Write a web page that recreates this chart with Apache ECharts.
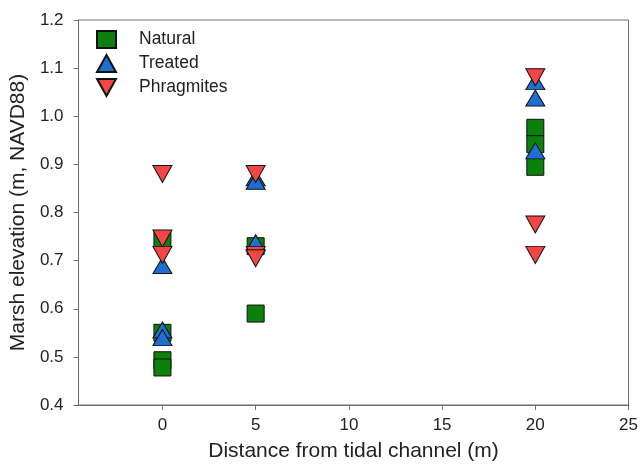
<!DOCTYPE html>
<html>
<head>
<meta charset="utf-8">
<script src="https://cdn.jsdelivr.net/npm/echarts@6/dist/echarts.min.js"></script>
<style>
  html, body { margin: 0; padding: 0; background: #fff; }
  #chart { width: 641px; height: 467px; }
</style>
</head>
<body>
<div id="chart"></div>
<script>
// distance from tidal channel (m) and marsh elevation (m, NAVD88)
const naturalX = [0, 0, 0, 0, 5, 5, 20, 20, 20];
const naturalY = [0.743, 0.55, 0.493, 0.478, 0.73, 0.59, 0.976, 0.942, 0.895];

const treatedX = [0, 0, 0, 5, 5, 5, 20, 20, 20];
const treatedY = [0.69, 0.556, 0.54, 0.872, 0.865, 0.737, 1.072, 1.038, 0.928];

const phragX = [0, 0, 0, 5, 5, 5, 20, 20, 20];
const phragY = [0.88, 0.746, 0.712, 0.88, 0.712, 0.705, 1.081, 0.775, 0.712];

const xTicks = [0, 5, 10, 15, 20, 25];

const downTri = 'path://M0,0 L20,0 L10,18 Z';
const font = 'Liberation Sans, Arial, sans-serif';

function pairs(xs, ys) {
    return xs.map((x, i) => [x, ys[i]]);
}

const chart = echarts.init(document.getElementById('chart'));

const option = {
    animation: false,
    backgroundColor: '#fff',
    grid: {
        left: 78,
        right: 10,
        top: 20,
        bottom: 62,
        show: true,
        borderColor: '#6e6e6e',
        borderWidth: 1,
    },
    legend: {
        orient: 'vertical',
        left: 96,
        top: 30,
        padding: 0,
        itemWidth: 19,
        itemHeight: 17,
        itemGap: 5,
        textStyle: { fontFamily: font, fontSize: 17.5, color: '#222', padding: [0, 0, 0, 18] },
        data: [
            { name: 'Natural', icon: 'rect' },
            { name: 'Treated', icon: 'triangle' },
            { name: 'Phragmites', icon: downTri },
        ],
    },
    xAxis: {
        type: 'value',
        min: -4.5,
        max: 25,
        name: 'Distance from tidal channel (m)',
        nameLocation: 'middle',
        nameGap: 36,
        nameTextStyle: { fontFamily: font, fontSize: 21, color: '#222' },
        splitLine: { show: false },
        axisLine: { show: true, onZero: false, lineStyle: { color: '#6e6e6e', width: 1 } },
        axisTick: { show: true, length: 5, customValues: xTicks, lineStyle: { color: '#6e6e6e' } },
        axisLabel: {
            customValues: xTicks,
            margin: 12,
            fontFamily: font,
            fontSize: 17,
            color: '#222',
        },
    },
    yAxis: {
        type: 'value',
        min: 0.4,
        max: 1.2,
        interval: 0.1,
        name: 'Marsh elevation (m, NAVD88)',
        nameLocation: 'middle',
        nameGap: 45,
        nameTextStyle: { fontFamily: font, fontSize: 21, color: '#222' },
        splitLine: { show: false },
        axisLine: { show: true, onZero: false, lineStyle: { color: '#6e6e6e', width: 1 } },
        axisTick: { show: true, length: 5, lineStyle: { color: '#6e6e6e' } },
        axisLabel: {
            margin: 15,
            fontFamily: font,
            fontSize: 17,
            color: '#222',
            formatter: (v) => v.toFixed(1),
        },
    },
    series: [
        {
            name: 'Natural',
            type: 'scatter',
            symbol: 'rect',
            symbolSize: [17, 17],
            itemStyle: { color: '#0b800b', borderColor: '#111', borderWidth: 1, opacity: 1 },
            data: pairs(naturalX, naturalY),
        },
        {
            name: 'Treated',
            type: 'scatter',
            symbol: 'triangle',
            symbolSize: [19, 16],
            itemStyle: { color: '#1f6fd2', borderColor: '#111', borderWidth: 1, opacity: 1 },
            data: pairs(treatedX, treatedY),
        },
        {
            name: 'Phragmites',
            type: 'scatter',
            symbol: downTri,
            symbolSize: [19, 17],
            itemStyle: { color: '#f54545', borderColor: '#111', borderWidth: 1, opacity: 1 },
            data: pairs(phragX, phragY),
        },
    ],
};

chart.setOption(option);
</script>
</body>
</html>
